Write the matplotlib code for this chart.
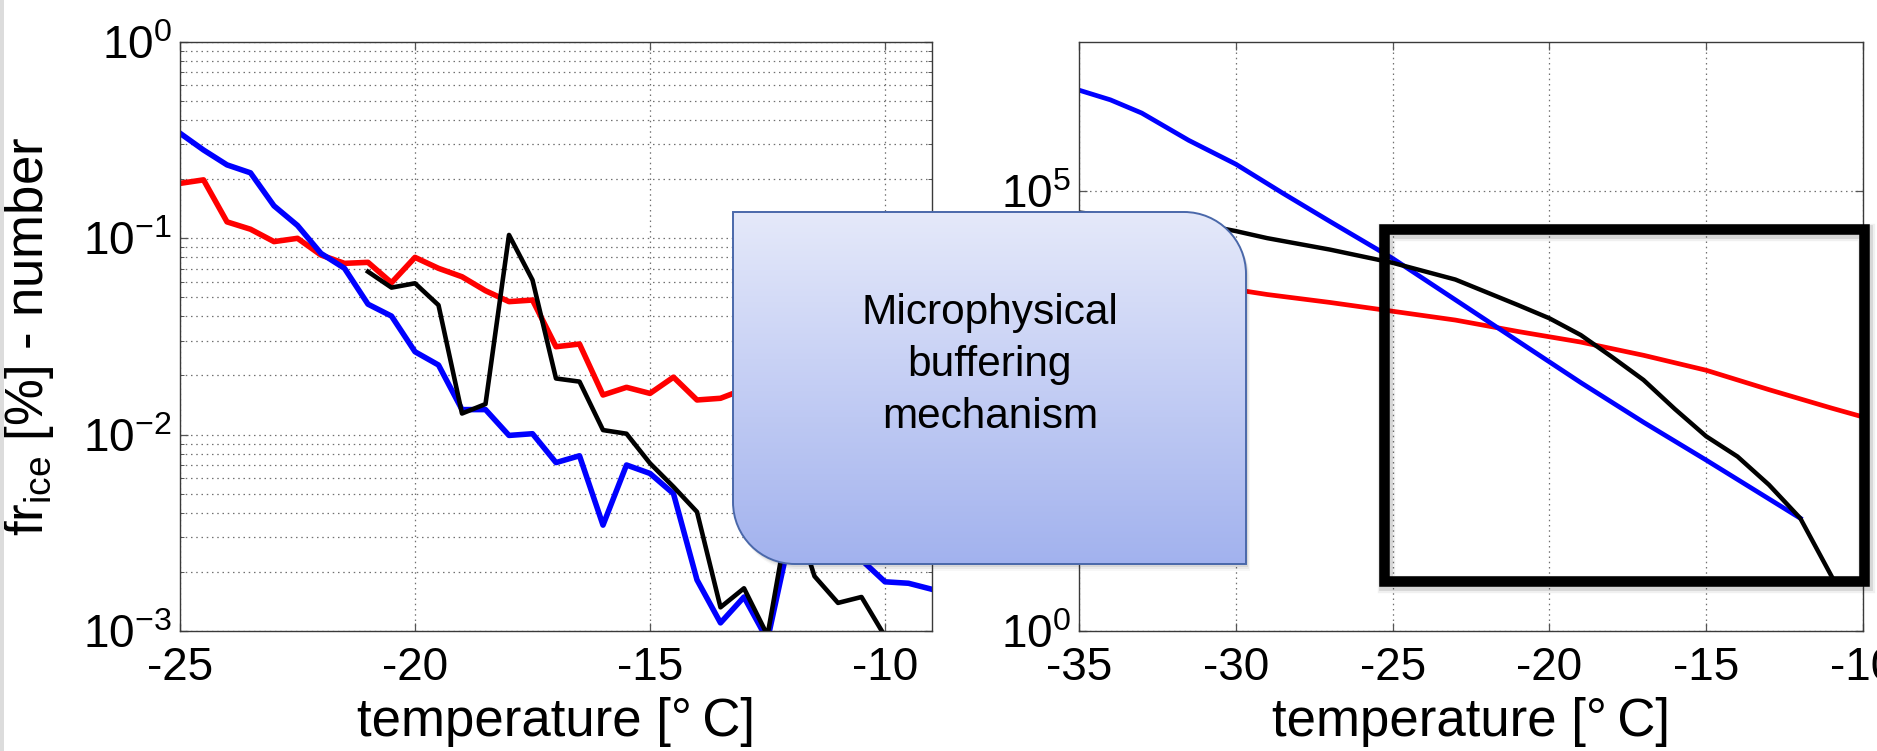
import numpy as np
import matplotlib
matplotlib.use('Agg')
import matplotlib.pyplot as plt
from matplotlib.path import Path
from matplotlib.patches import PathPatch, Rectangle
from matplotlib.ticker import FixedLocator, LogLocator, NullLocator, NullFormatter

plt.rcParams['font.family'] = ['Liberation Sans', 'DejaVu Sans']
plt.rcParams['mathtext.fontset'] = 'custom'
plt.rcParams['mathtext.rm'] = 'Liberation Sans'
plt.rcParams['mathtext.it'] = 'Liberation Sans:italic'
plt.rcParams['mathtext.bf'] = 'Liberation Sans:bold'
plt.rcParams['axes.unicode_minus'] = False

# ---------------- data: left panel (fr_ice, number) ----------------
left_temp = [-25, -24.5, -24, -23.5, -23, -22.5, -22, -21.5, -21, -20.5, -20,
             -19.5, -19, -18.5, -18, -17.5, -17, -16.5, -16, -15.5, -15,
             -14.5, -14, -13.5, -13, -12.5, -12, -11.5, -11, -10.5, -10,
             -9.5, -9]
left_blue = [0.342, 0.281, 0.236, 0.215, 0.146, 0.116, 0.0836, 0.0702, 0.0461,
             0.0401, 0.0264, 0.0226, 0.0134, 0.0134, 0.0099, 0.0101, 0.0072,
             0.0078, 0.00346, 0.0070, 0.00634, 0.0050, 0.00182, 0.0011,
             0.00149, 0.00090, 0.0032, 0.0030, 0.0028, 0.0023, 0.00178,
             0.00175, 0.00163]
left_red = [0.190, 0.198, 0.121, 0.111, 0.096, 0.0998, 0.082, 0.0744, 0.0753,
            0.0593, 0.0798, 0.0702, 0.0636, 0.054, 0.0475, 0.0484, 0.028,
            0.0289, 0.0159, 0.0174, 0.0162, 0.0196, 0.0150, 0.0153, 0.0170,
            0.018, 0.016, 0.017, 0.015, 0.016, 0.014, 0.015, 0.013]
left_black_temp = [-21, -20.5, -20, -19.5, -19, -18.5, -18, -17.5, -17, -16.5,
                   -16, -15.5, -15, -14.5, -14, -13.5, -13, -12.5, -12, -11.5,
                   -11, -10.5, -10]
left_black = [0.0675, 0.056, 0.0589, 0.0456, 0.0128, 0.0143, 0.1038, 0.0612,
              0.0193, 0.0186, 0.01054, 0.0101, 0.00714, 0.00542, 0.00404,
              0.00132, 0.00165, 0.00095, 0.0045, 0.0019, 0.00139, 0.00149,
              0.00094]

# ---------------- data: right panel (log10 of values) ----------------
right_blue_temp = [-35, -34, -33, -31.5, -30, -28.5, -27, -25, -23, -21, -19, -17, -15, -13, -12]
right_blue_log = [6.14, 6.03, 5.88, 5.57, 5.30, 4.97, 4.65, 4.23, 3.76, 3.29, 2.82, 2.37, 1.94, 1.50, 1.28]
right_red_temp = [-35, -33, -31, -29, -27, -25, -23, -21, -19, -17, -15, -13, -11, -10]
right_red_log = [4.10, 4.03, 3.93, 3.82, 3.73, 3.63, 3.53, 3.40, 3.28, 3.13, 2.96, 2.74, 2.53, 2.43]
right_black_temp = [-35, -33, -31, -30, -29, -27, -25, -23, -21, -20, -19, -18,
                    -17, -16, -15, -14, -13, -12, -11]
right_black_log = [4.75, 4.68, 4.61, 4.54, 4.46, 4.33, 4.18, 3.99, 3.70, 3.55,
                   3.36, 3.11, 2.85, 2.52, 2.21, 1.98, 1.66, 1.28, 0.62]

left_xticks = [-25, -20, -15, -10]
right_xticks = [-35, -30, -25, -20, -15, -10]

W, H = 1877, 751
fig = plt.figure(figsize=(W / 100, H / 100), dpi=100)
fig.patch.set_facecolor('white')

ax1 = fig.add_axes([180 / W, 1 - 631 / H, (932 - 180) / W, (631 - 41.7) / H])
ax2 = fig.add_axes([1079 / W, 1 - 631 / H, (1863 - 1079) / W, (631 - 41.7) / H])

grid_kw = dict(color='#707070', linestyle=(0, (1.2, 3.0)), linewidth=0.9)
xlabel_text = 'temperature [°\u2009C]'

for ax in (ax1, ax2):
    ax.set_yscale('log')
    for s in ax.spines.values():
        s.set_color('#3a3a3a')
        s.set_linewidth(1.0)
    ax.tick_params(which='both', direction='in', top=True, right=True,
                   color='#555555', labelcolor='black', labelsize=33)
    ax.tick_params(which='major', length=6, width=0.9)
    ax.tick_params(which='minor', length=3, width=0.7)
    ax.tick_params(axis='x', pad=11)
    ax.tick_params(axis='y', pad=6)
    ax.set_axisbelow(True)

# left panel
ax1.plot(left_temp, left_red, color='#ff0000', lw=4.0)
ax1.plot(left_temp, left_blue, color='#0000ff', lw=4.0)
ax1.plot(left_black_temp, left_black, color='black', lw=3.3)
ax1.set_xlim(-25, -9)
ax1.set_ylim(1e-3, 1)
ax1.set_xticks(left_xticks)
ax1.yaxis.set_major_locator(FixedLocator([1e-3, 1e-2, 1e-1, 1]))
ax1.yaxis.set_minor_locator(LogLocator(base=10, subs=np.arange(2, 10)))
ax1.yaxis.set_minor_formatter(NullFormatter())
ax1.grid(True, which='both', axis='y', **grid_kw)
ax1.grid(True, which='major', axis='x', **grid_kw)
ax1.set_ylabel(r'fr$_{\mathrm{ice}}$ [%] - number', fontsize=38)
ax1.yaxis.set_label_coords((56 - 180) / 752, 0.5)
ax1.set_xlabel(xlabel_text, fontsize=38)
ax1.xaxis.set_label_coords(0.5, -(697 - 631) / 589.3)

# right panel
ax2.plot(right_red_temp, 10 ** np.array(right_red_log), color='#ff0000', lw=3.4)
ax2.plot(right_blue_temp, 10 ** np.array(right_blue_log), color='#0000ff', lw=3.4)
ax2.plot(right_black_temp, 10 ** np.array(right_black_log), color='black', lw=3.2)
ax2.set_xlim(-35, -10)
ax2.set_ylim(1, 10 ** 6.69)
ax2.set_xticks(right_xticks)
ax2.yaxis.set_major_locator(FixedLocator([1, 1e5]))
ax2.yaxis.set_minor_locator(NullLocator())
ax2.grid(True, which='major', **grid_kw)
ax2.set_xlabel(xlabel_text, fontsize=38)
ax2.xaxis.set_label_coords(0.5, -(697 - 631) / 589.3)

# ---------------- overlay (annotation shapes) ----------------
ov = fig.add_axes([0, 0, 1, 1], zorder=10)
ov.axis('off')
ov.patch.set_alpha(0)

ov.add_patch(Rectangle((0, 0), 4.5, H, color='#dcdcdc', lw=0, zorder=1))

x0, y0, x1, y1 = 733, 212, 1246, 564
r = 62
k = 0.5523
verts = [(x0, y0), (x1 - r, y0), (x1 - r + k * r, y0), (x1, y0 + r - k * r), (x1, y0 + r),
         (x1, y1), (x0 + r, y1), (x0 + r - k * r, y1), (x0, y1 - r + k * r), (x0, y1 - r),
         (x0, y0)]
codes = [Path.MOVETO, Path.LINETO, Path.CURVE4, Path.CURVE4, Path.CURVE4,
         Path.LINETO, Path.LINETO, Path.CURVE4, Path.CURVE4, Path.CURVE4,
         Path.CLOSEPOLY]
box_path = Path(verts, codes)

# soft shadow
for dx, dy, a in [(2, 3, 0.07), (3, 5, 0.05), (4, 7, 0.03)]:
    sp = Path(np.array(verts) + np.array([dx, dy]), codes)
    ov.add_patch(PathPatch(sp, fc='black', ec='none', alpha=a, zorder=2))

fill_patch = PathPatch(box_path, fc='none', ec='none', zorder=3)
ov.add_patch(fill_patch)
g = np.linspace(0, 1, 256)[:, None, None]
top_c = np.array([229, 233, 250]) / 255.0
bot_c = np.array([162, 178, 238]) / 255.0
img = top_c + (bot_c - top_c) * g
im = ov.imshow(img, extent=[x0, x1, y1, y0], aspect='auto', zorder=3,
               interpolation='bilinear')
im.set_clip_path(fill_patch)
ov.add_patch(PathPatch(box_path, fc='none', ec='#4a68aa', lw=1.4, zorder=4))
ov.text((x0 + x1) / 2 + 0.5, 365, 'Microphysical\nbuffering\nmechanism',
        ha='center', va='center', fontsize=30.5, linespacing=1.38, zorder=5)

# highlight rectangle with faint shadow
rx0, ry0, rx1, ry1 = 1384.5, 229, 1864.5, 580.5
for lw_, a in [(10.0, 0.10), (12.5, 0.06)]:
    ov.add_patch(Rectangle((rx0 + 2, ry0 + 3), rx1 - rx0, ry1 - ry0, fill=False,
                           ec='black', lw=lw_, alpha=a, joinstyle='miter', zorder=5))
ov.add_patch(Rectangle((rx0, ry0), rx1 - rx0, ry1 - ry0, fill=False, ec='black',
                       lw=7.6, joinstyle='miter', zorder=6))

ov.set_xlim(0, W)
ov.set_ylim(H, 0)

fig.savefig('out.png', dpi=100)
